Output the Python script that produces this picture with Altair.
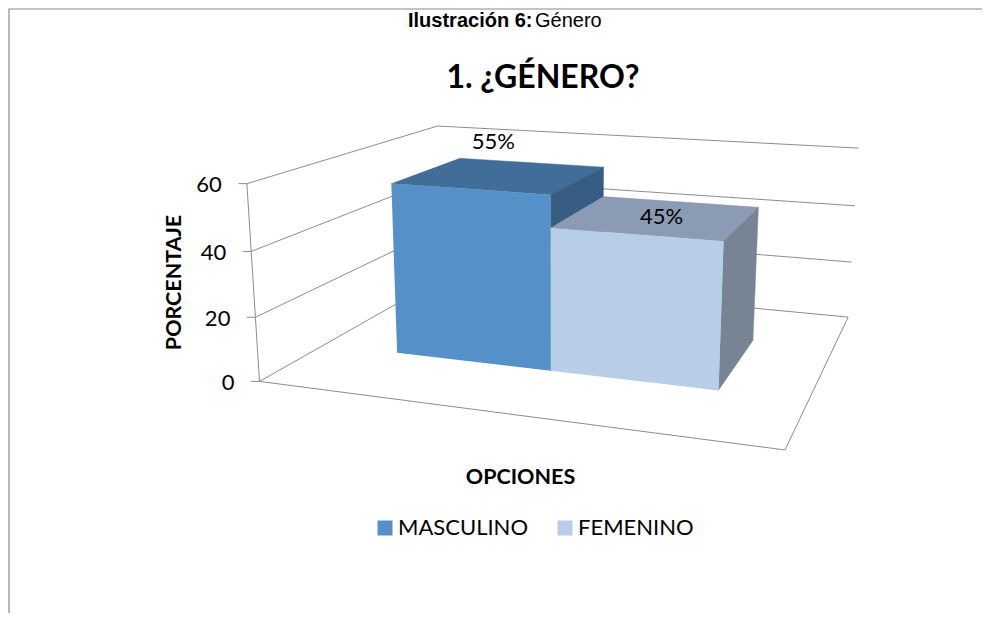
import altair as alt
import numpy as np
import pandas as pd

# ---- chart values ----
categories = ["MASCULINO", "FEMENINO"]
values = [55, 45]
value_labels = ["55%", "45%"]
ticks = [0, 20, 40, 60]
title_text = "1. ¿GÉNERO?"
caption_bold = "Ilustración 6:"
caption_rest = "Género"
x_title = "OPCIONES"
y_title = "PORCENTAJE"

# ---- styles ----
FRONT = ["#5590C8", "#B8CDE8"]
TOP = ["#416E99", "#8B9BB3"]
SIDE = ["#385D82", "#768494"]
GRID = "#8C8C8C"
FONT = "Lato"
W, H = 974, 605
AXIS_MAX = 60
BAR_DEPTH = (0.3, 0.7)

# 3-D view of the Excel plot box: (category position, depth, value/max) -> page pixel
CAMERA = np.array([
    [420.262431, 319.902953, -22.588448, 259.496255],
    [8.233772, -15.885182, -205.176727, 381.406614],
    [-0.134054, 0.312711, -0.040399, 1.0],
])


def project(u, w, value):
    h = CAMERA @ np.array([u, w, value / AXIS_MAX, 1.0])
    return h[0] / h[2], h[1] / h[2]


x_scale = alt.Scale(domain=[8, 8 + W], range=[0, W], nice=False, zero=False)
y_scale = alt.Scale(domain=[8, 8 + H], range=[0, H], nice=False, zero=False)
X = alt.X("x:Q", scale=x_scale, axis=None)
Y = alt.Y("y:Q", scale=y_scale, axis=None)


def polyline(points):
    rows = []
    for i, (u, w, v) in enumerate(points):
        x, y = project(u, w, v)
        rows.append({"x": x, "y": y, "i": i})
    return rows


def stroke_line(points, width=1.0, color=GRID):
    return (
        alt.Chart(pd.DataFrame(polyline(points)))
        .mark_line(stroke=color, strokeWidth=width, interpolate="linear")
        .encode(x=X, y=Y, order="i:Q")
    )


def face(points, color):
    return (
        alt.Chart(pd.DataFrame(polyline(points)))
        .mark_line(fill=color, stroke=color, strokeWidth=0.5, interpolate="linear")
        .encode(x=X, y=Y, order="i:Q")
    )


def label(text, x, y, size, bold=False, angle=0, align="center", font=FONT):
    return (
        alt.Chart(pd.DataFrame({"x": [x], "y": [y], "t": [text]}))
        .mark_text(
            font=font, fontSize=size, fontWeight="bold" if bold else "normal",
            angle=angle, align=align, baseline="middle", color="#000000",
        )
        .encode(x=X, y=Y, text="t:N")
    )


layers = []

# outer frame of the picture
frame = pd.DataFrame({"x": [982, 9, 9], "y": [9, 9, 613], "i": [0, 1, 2]})
layers.append(
    alt.Chart(frame).mark_line(stroke="#8A8A8A", strokeWidth=1.2).encode(x=X, y=Y, order="i:Q")
)

# caption of the page, moved just under the frame line so that it stays readable
layers.append(label(caption_bold, 408, 21, 20, bold=True, align="left", font="Liberation Sans"))
layers.append(label(caption_rest, 535, 21, 20, align="left", font="Liberation Sans"))

# walls, floor, ticks
for t in ticks:
    layers.append(stroke_line([(0, 0, t), (0, 1, t), (1, 1, t)]))
layers.append(stroke_line([(0, 0, 0), (1, 0, 0), (1, 1, 0)]))
layers.append(stroke_line([(0, 0, 0), (0, 0, AXIS_MAX)]))
for t in ticks:
    x0, y0 = project(0, 0, t)
    tick = pd.DataFrame({"x": [x0 - 8.5, x0], "y": [y0, y0], "i": [0, 1]})
    layers.append(alt.Chart(tick).mark_line(stroke=GRID, strokeWidth=1).encode(x=X, y=Y, order="i:Q"))
    layers.append(label(str(t), x0 - 25, y0 + 1.5, 22, align="right"))

# bars
n = len(categories)
d0, d1 = BAR_DEPTH
for k, (cat, val) in enumerate(zip(categories, values)):
    u0 = (1 + 2 * k) / 6
    u1 = (3 + 2 * k) / 6
    layers.append(face([(u0, d0, val), (u1, d0, val), (u1, d1, val), (u0, d1, val)], TOP[k]))
    layers.append(face([(u1, d0, 0), (u1, d0, val), (u1, d1, val), (u1, d1, 0)], SIDE[k]))
    rows = polyline([(u0, d0, 0), (u0, d0, val), (u1, d0, val), (u1, d0, 0)])
    for r in rows:
        r["cat"] = cat
    layers.append(
        alt.Chart(pd.DataFrame(rows))
        .mark_line(strokeWidth=0, interpolate="linear")
        .encode(
            x=X, y=Y, order="i:Q",
            fill=alt.Fill(
                "cat:N",
                scale=alt.Scale(domain=categories, range=FRONT),
                legend=alt.Legend(
                    title=None, orient="none", direction="horizontal",
                    legendX=366, legendY=509, symbolType="square", symbolSize=225,
                    symbolStrokeWidth=0, labelFont=FONT, labelFontSize=22,
                    labelColor="#000000", columns=2, columnPadding=26, labelOffset=2,
                    labelLimit=300, symbolOffset=0,
                ),
            ),
        )
    )

for txt, val, k, dx, dy in zip(value_labels, values, range(n), [-8, 3], [-33, 0]):
    cx, cy = project((2 + 2 * k) / 6, 0.5, val)
    layers.append(label(txt, cx + dx, cy + dy, 22))

# titles
layers.append(label(title_text, 543, 78, 32, bold=True))
layers.append(label(x_title, 520.5, 478, 21.5, bold=True))
layers.append(label(y_title, 174.5, 282.5, 21.5, bold=True, angle=270))

chart = (
    alt.layer(*layers)
    .properties(width=W, height=H, padding=0, autosize=alt.AutoSizeParams(type="none"))
    .configure_view(stroke=None)
    .resolve_scale(fill="shared")
)

chart.save("out.html", embed_options={"renderer": "svg", "actions": False})
